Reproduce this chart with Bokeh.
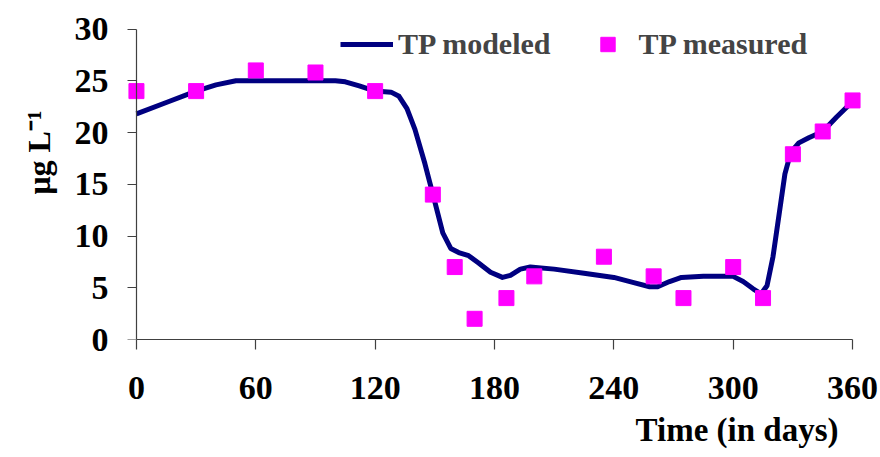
from bokeh.plotting import figure
from bokeh.models import Range1d, FixedTicker, Legend, LegendItem, Title, ColumnDataSource, LinearAxis
from bokeh.embed import file_html
from bokeh.resources import INLINE

# Measured TP (days, µg/L)
measured_days = [0, 30, 60, 90, 120, 149, 160, 170, 186, 200, 235, 260, 275, 300, 315, 330, 345, 360]
measured_tp = [24.0, 24.0, 26.0, 25.8, 24.0, 14.0, 7.0, 2.0, 4.0, 6.1, 8.0, 6.1, 4.0, 7.0, 4.0, 17.9, 20.1, 23.1]

# Modeled TP curve
model_days = [0, 15, 30, 40, 50, 60, 90, 100, 105, 112, 120, 128, 132, 136, 140, 145, 150, 154,
              158, 162, 167, 172, 178, 184, 188, 193, 198, 210, 225, 240, 250, 258, 262, 268,
              274, 285, 300, 305, 310, 314, 317, 320, 323, 326, 329, 333, 338, 345, 352, 360]
model_tp = [21.8, 22.9, 24.0, 24.6, 25.0, 25.0, 25.0, 25.0, 24.9, 24.5, 24.0, 23.9, 23.5, 22.3,
            20.3, 17.0, 13.3, 10.3, 8.8, 8.4, 8.1, 7.4, 6.5, 6.0, 6.2, 6.8, 7.0, 6.8, 6.4, 6.0,
            5.5, 5.1, 5.1, 5.6, 6.0, 6.1, 6.1, 5.6, 4.9, 4.4, 5.2, 8.0, 12.0, 16.0, 18.1, 19.0,
            19.5, 20.1, 21.5, 23.0]

x_ticks = [0, 60, 120, 180, 240, 300, 360]
y_ticks = [0, 5, 10, 15, 20, 25, 30]

FONT = "Liberation Serif"
AXC = "#404040"

p = figure(width=880, height=457, output_backend="svg", toolbar_location=None,
           x_range=Range1d(-5, 365), y_range=Range1d(0, 31.5),
           min_border_left=126, min_border_right=18, min_border_top=13, min_border_bottom=118)
p.outline_line_color = None
p.xgrid.visible = False
p.ygrid.visible = False
p.background_fill_color = "white"
p.border_fill_color = "white"

model_src = ColumnDataSource(dict(x=model_days, y=model_tp))
meas_src = ColumnDataSource(dict(x=measured_days, y=measured_tp))

r_line = p.line("x", "y", source=model_src, line_color="#000080", line_width=5, line_join="round")
r_pts = p.scatter("x", "y", source=meas_src, marker="square", size=15,
                  fill_color="#FF00FF", line_color="#FF00FF")

for ax in (p.xaxis[0], p.yaxis[0]):
    ax.minor_tick_line_color = None
    ax.major_tick_in = 0
    ax.major_label_text_font = FONT
    ax.major_label_text_font_style = "bold"
    ax.major_label_text_font_size = "34px"
    ax.major_label_text_color = "black"

# x axis: line, ticks and labels
p.xaxis.ticker = FixedTicker(ticks=x_ticks)
p.xaxis.bounds = (0, 360)
p.xaxis.axis_line_color = AXC
p.xaxis.axis_line_width = 1.2
p.xaxis.major_tick_line_color = AXC
p.xaxis.major_tick_line_width = 1.2
p.xaxis.major_tick_out = 10
p.xaxis.major_label_standoff = 27

# y axis labels (at the frame edge)
p.yaxis.ticker = FixedTicker(ticks=y_ticks)
p.yaxis.axis_line_color = None
p.yaxis.major_tick_line_color = None
p.yaxis.major_tick_out = 0
p.yaxis.major_label_standoff = 18

# y axis line and ticks drawn at day 0 (labels not drawn)
yline = LinearAxis(ticker=FixedTicker(ticks=y_ticks), fixed_location=0, bounds=(0, 30),
                   axis_line_color=AXC, axis_line_width=1.2,
                   major_tick_line_color=AXC, major_tick_line_width=1.2,
                   major_tick_in=9, major_tick_out=0, minor_tick_line_color=None,
                   major_label_text_color=None, major_label_text_font_size="2px",
                   major_label_standoff=0)
p.add_layout(yline, "right")

legend = Legend(items=[LegendItem(label="TP modeled", renderers=[r_line]),
                       LegendItem(label="TP measured", renderers=[r_pts])],
                orientation="horizontal", location=(214, 277),
                padding=0, margin=0, spacing=30, glyph_width=53, glyph_height=36,
                label_height=36, label_standoff=5,
                label_text_font=FONT, label_text_font_style="bold", label_text_font_size="30px",
                border_line_color=None, background_fill_alpha=0)
p.add_layout(legend, "center")

p.add_layout(Title(text="Time (in days)", align="right", offset=24, standoff=18,
                   vertical_align="middle",
                   text_font=FONT, text_font_style="bold", text_font_size="33px",
                   text_color="black"), "below")
p.add_layout(Title(text="μg L⁻¹", align="right", offset=97, standoff=26,
                   vertical_align="top",
                   text_font=FONT, text_font_style="bold", text_font_size="32px",
                   text_color="black"), "left")

open("out.html", "w").write(file_html(p, INLINE))
